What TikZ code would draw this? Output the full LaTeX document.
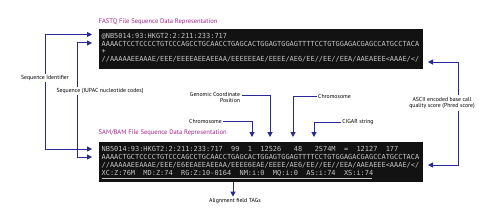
\documentclass[tikz,border=0pt]{standalone}
\usepackage{fontspec}
\setmainfont{PT Sans}
\newfontfamily\monof{DejaVu Sans Mono}
\usetikzlibrary{arrows.meta}
\definecolor{navy}{RGB}{40,40,150}
\definecolor{magt}{RGB}{165,35,140}
\definecolor{boxbg}{RGB}{18,18,18}
\definecolor{seqtxt}{RGB}{198,198,198}
\begin{document}
\begin{tikzpicture}[x=1pt,y=-1pt,
  arr/.style={draw=navy,line width=1pt,-{Triangle[length=5pt,width=5pt]}},
  lbl/.style={font=\fontsize{5.8}{6.8}\selectfont,inner sep=1.5pt,text=black},
  ttl/.style={font=\fontsize{6.6}{8}\selectfont,text=magt,anchor=west,inner sep=0pt},
  seqbox/.style={fill=boxbg,draw=none,inner sep=0pt},
  mono/.style={font=\monof\fontsize{6.94}{8}\selectfont,text=seqtxt,anchor=base west,inner sep=0pt},
]
\useasboundingbox (0,0) rectangle (500,222);
% boxes
\node[seqbox,minimum width=324.5pt,minimum height=39.5pt] (fq) at (260.75,49.25) {};
\node[seqbox,minimum width=324.5pt,minimum height=40pt] (sam) at (260.75,162) {};
% titles
\node[ttl] (fqt) at (98.5,21.5) {FASTQ File Sequence Data Representation};
\node[ttl] (samt) at (98.5,133) {SAM/BAM File Sequence Data Representation};
% FASTQ lines
\node[mono] (fq1) at (101.5,38) {@NB5014:93:HKGT2:2:211:233:717};
\node[mono] (fq2) at (101.5,46) {AAAACTCCTCCCCTGTCCCAGCCTGCAACCTGAGCACTGGAGTGGAGTTTTCCTGTGGAGACGAGCCATGCCTACA};
\node[mono] (fq3) at (101.5,54) {+};
\node[mono] (fq4) at (101.5,62) {//AAAAAEEAAAE/EEE/EEEEAEEAEEAA/EEEEEEAE/EEEE/AE6/EE//EE//EEA/AAEAEEE<AAAE/</};
% SAM lines
\node[mono] (sm1) at (101.5,151.5) {NB5014:93:HKGT2:2:211:233:717~~99~~1~~12526~~~48~~~2S74M~~=~~12127~~177};
\node[mono] (sm2) at (101.5,159.5) {AAAACTGCTCCCCTGTCCCAGCCTGCAACCTGAGCACTGGAGTGGAGTTTTCCTGTGGAGACGAGCCATGCCTACA};
\node[mono] (sm3) at (101.5,167.5) {//AAAAAEEAAAE/EEE/E6EEAEEAEEAA/EEEE6EAE/EEEE/AE6/EE//EE//EEA/AAEAEEE<AAAE/</};
\node[mono] (sm4) at (101.5,175.5) {XC:Z:76M~~MD:Z:74~~RG:Z:10-0164~~NM:i:0~~MQ:i:0~~AS:i:74~~XS:i:74};
\draw[seqtxt,line width=0.8pt] (101.5,178.7) -- (372,178.7);
% coordinates
\coordinate (fqA) at (92,34.5);
\coordinate (fqB) at (92,43);
\coordinate (smA) at (92,149);
\coordinate (smB) at (92,157);
\coordinate (bendB) at (77,43);
\coordinate (fqQ) at (428,62);
\coordinate (smQ) at (428,165);
\coordinate (bendQ) at (458,62);
\coordinate (genY) at (270,95.5);
\coordinate (pA) at (252,137);
\coordinate (pB) at (270,137);
\coordinate (pC) at (293,137);
\coordinate (pD) at (314,137);
\coordinate (tagtop) at (233,182);
% labels
\node[lbl] (seqid) at (45,78) {Sequence Identifier};
\node[lbl] (seqiu) at (100,91) {Sequence (IUPAC nucleotide codes)};
\node[lbl,align=center] (ascii) at (442,103) {ASCII encoded base call\\quality score (Phred score)};
\node[lbl,align=right] (gen) at (215,97.5) {Genomic Coordinate\\Position};
\node[lbl] (chrA) at (205.5,121) {Chromosome};
\node[lbl] (chrB) at (334.5,96) {Chromosome};
\node[lbl] (cigar) at (358,122) {CIGAR string};
\node[lbl] (tags) at (235,201) {Alignment field TAGs};
% connectors
\draw[arr] (seqid.north) |- (fqA);
\draw[arr] (seqid.south) |- (smA);
\draw[arr] (seqiu.north -| bendB) -- (bendB) -- (fqB);
\draw[arr] (seqiu.south -| bendB) |- (smB);
\draw[arr] (ascii.north -| bendQ) -- (bendQ) -- (fqQ);
\draw[arr] (ascii.south -| bendQ) |- (smQ);
\draw[arr] (gen.east |- genY) -- (genY) -- (pB);
\draw[arr] (chrA.east) -| (pA);
\draw[arr] (chrB.west) -| (pC);
\draw[arr] (cigar.west) -| (pD);
\draw[arr] (tagtop) -- (tagtop |- tags.north);
\end{tikzpicture}
\end{document}
